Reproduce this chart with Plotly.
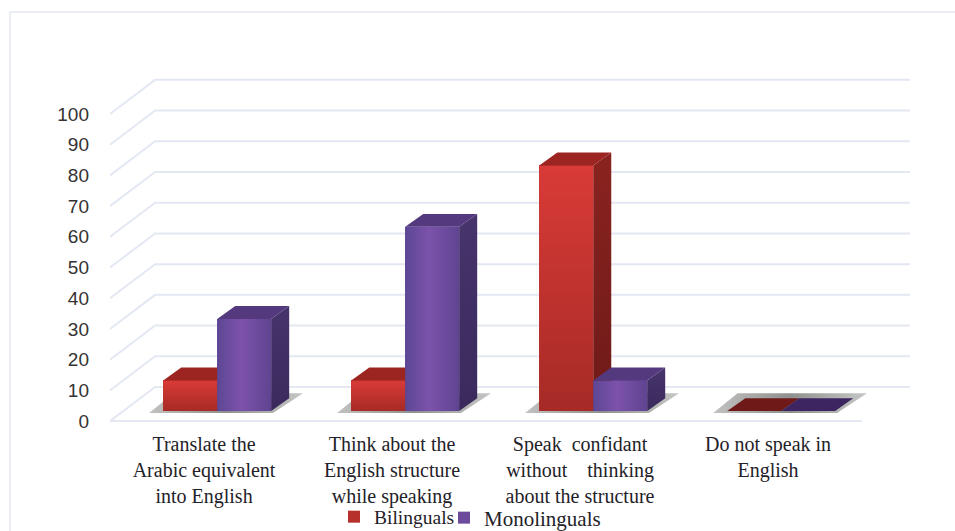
import plotly.graph_objects as go

# Survey responses, percent of each group
categories = [
    "Translate the<br>Arabic equivalent<br>into English",
    "Think about the<br>English structure<br>while speaking",
    "Speak  confidant<br>without\u00a0\u00a0\u00a0\u00a0thinking<br>about the structure",
    "Do not speak in<br>English",
]
bilinguals = [10, 10, 80, 0]
monolinguals = [30, 60, 10, 0]
value_ticks = list(range(0, 101, 10))

# Pseudo-3D geometry in axis units (one category = 1 on x, one percent = 1 on y)
X_MAX = 4.255
Y_MIN, Y_MAX = -2.9, 114.3
WALL_DX, WALL_DY = 0.24, 11.1
BAR_SHIFT_X, BAR_SHIFT_Y = 0.07, 3.25
BAR_W = 0.287
BAR_DX, BAR_DY = 0.096, 4.2

GRID = "#e3e8f3"
SERIF = "Liberation Serif"

fig = go.Figure()


def line_trace(xs, ys):
    fig.add_trace(go.Scatter(x=xs, y=ys, mode="lines", showlegend=False, hoverinfo="skip",
                             line=dict(color=GRID, width=2)))


def face(xs, ys, scale=None, kind="vertical", color=None):
    """Filled polygon on the overlay axes; a gradient when a colour scale is given."""
    kw = dict(fillcolor=color) if scale is None else dict(
        fillgradient=dict(type=kind, colorscale=scale))
    fig.add_trace(go.Scatter(x=xs + xs[:1], y=ys + ys[:1], mode="lines", fill="toself",
                             line=dict(width=0), showlegend=False, hoverinfo="skip",
                             xaxis="x2", yaxis="y2", **kw))


# Back wall, side wall and floor rules
for v in value_ticks:
    line_trace([0, WALL_DX, X_MAX], [v, v + WALL_DY, v + WALL_DY])
line_trace([0, 4.0], [0, 0])

# Floor shadows sit on the primary axes so that the bars cover them
for i in range(len(categories)):
    left = i + 0.5 + BAR_SHIFT_X - BAR_W - 0.075
    right = i + 0.5 + BAR_SHIFT_X + BAR_W + 0.01
    fig.add_trace(go.Scatter(
        x=[left, left + 0.13, right + 0.16, right, left],
        y=[2.6, 9.1, 9.1, 2.6, 2.6],
        mode="lines", fill="toself", line=dict(width=0), showlegend=False, hoverinfo="skip",
        fillgradient=dict(type="horizontal",
                          colorscale=[[0, "#c2c3c1"], [0.5, "#8e908e"], [1, "#c6c8c6"]])))

series = [
    ("Bilinguals", "legend", bilinguals, -BAR_W, "#b8302c",
     [[0, "#a62a26"], [1, "#d93b37"]], "vertical",
     [[0, "#6e1a18"], [1, "#8a2320"]], "#9c2421", "#6f1a18"),
    ("Monolinguals", "legend2", monolinguals, 0, "#6c4a9c",
     [[0, "#5d4794"], [0.45, "#7c52ab"], [1, "#5f4490"]], "horizontal",
     [[0, "#3a2a5c"], [1, "#46346c"]], "#55397f", "#3c2560"),
]

# Native bars carry the values and the legend entries
for name, legend_id, values, offset, base_color, *_ in series:
    fig.add_trace(go.Bar(
        x=[i + 0.5 + BAR_SHIFT_X + offset + BAR_W / 2 for i in range(len(values))],
        y=values, base=[BAR_SHIFT_Y] * len(values), width=BAR_W, name=name, legend=legend_id,
        marker=dict(color=base_color, line=dict(width=0)),
        xaxis="x2", yaxis="y2", hoverinfo="skip"))

# Shaded front, side and top faces derived from the same values
for name, _, values, offset, _, front, kind, side, top, flat in series:
    for i, v in enumerate(values):
        x0 = i + 0.5 + BAR_SHIFT_X + offset
        x1 = x0 + BAR_W
        y0 = BAR_SHIFT_Y
        y1 = y0 + v
        if v > 0:
            face([x1, x1 + BAR_DX, x1 + BAR_DX, x1],
                 [y0, y0 + BAR_DY, y1 + BAR_DY, y1], scale=side)
            face([x0, x1, x1, x0], [y0, y0, y1, y1], scale=front, kind=kind)
        face([x0, x1, x1 + BAR_DX, x0 + BAR_DX],
             [y1, y1, y1 + BAR_DY, y1 + BAR_DY], color=top if v > 0 else flat)


def paper_x(px):
    return (px - 110) / 800


def paper_y(py):
    return (430 - py) / 360


# Light panel outline along the top and left
fig.add_shape(type="line", xref="paper", yref="paper", line=dict(color="#e4e7f0", width=1.5),
              x0=paper_x(10), x1=paper_x(955), y0=paper_y(12), y1=paper_y(12))
fig.add_shape(type="line", xref="paper", yref="paper", line=dict(color="#e4e7f0", width=1.5),
              x0=paper_x(10), x1=paper_x(10), y0=paper_y(12), y1=paper_y(531))

axis_common = dict(showgrid=False, zeroline=False, showline=False, fixedrange=True)
fig.update_layout(
    width=955, height=531, autosize=False,
    margin=dict(l=110, r=45, t=70, b=101, autoexpand=False),
    paper_bgcolor="white", plot_bgcolor="white",
    barmode="overlay", bargap=0,
    xaxis=dict(range=[0, X_MAX], tickvals=[i + 0.5 for i in range(len(categories))],
               ticktext=categories, tickangle=0, ticks="", automargin=False,
               tickfont=dict(family=SERIF, size=20, color="#1f2228"), **axis_common),
    yaxis=dict(range=[Y_MIN, Y_MAX], tickvals=value_ticks, ticks="", automargin=False,
               ticklabelstandoff=20,
               tickfont=dict(family="Liberation Sans", size=19, color="#333333"), **axis_common),
    xaxis2=dict(range=[0, X_MAX], overlaying="x", visible=False, **axis_common),
    yaxis2=dict(range=[Y_MIN, Y_MAX], overlaying="y", visible=False, **axis_common),
    legend=dict(orientation="h", x=paper_x(334), xanchor="left", y=paper_y(517), yanchor="middle",
                font=dict(family=SERIF, size=19.5, color="#1f2228"), bgcolor="rgba(0,0,0,0)"),
    legend2=dict(orientation="h", x=paper_x(444), xanchor="left", y=paper_y(518), yanchor="middle",
                 font=dict(family=SERIF, size=21, color="#1f2228"), bgcolor="rgba(0,0,0,0)"),
)

fig.write_html("out.html")
